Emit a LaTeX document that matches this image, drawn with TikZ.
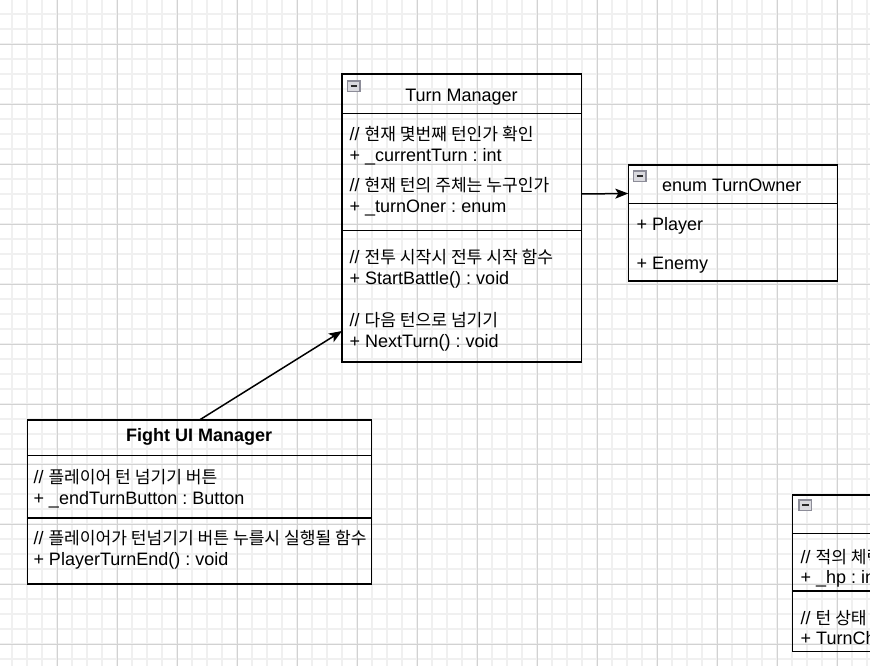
\documentclass[tikz,border=0pt]{standalone}
\usepackage{fontspec}
\setmainfont{Liberation Sans}
\newfontfamily\kr{Noto Sans CJK KR}[Scale=0.95]
\usetikzlibrary{arrows.meta}
\frenchspacing
\definecolor{gridminor}{HTML}{F0F0F0}
\definecolor{gridmajor}{HTML}{D2D2D2}
\definecolor{iconborder}{HTML}{8C8C98}
\definecolor{iconfill}{HTML}{DADADF}
\definecolor{iconbar}{HTML}{2A2A2A}
\tikzset{
  umlbox/.style={draw=black, line width=1.5pt, inner sep=0pt, outer sep=0pt},
  txt/.style={anchor=base west, inner sep=0pt, font=\fontsize{18}{21.6}\selectfont},
  ttl/.style={anchor=base, inner sep=0pt, font=\fontsize{18}{21.6}\selectfont},
  divline/.style={line width=1.5pt},
  arr/.style={line width=1.5pt, -{Stealth[length=13pt,width=10pt,inset=3pt]}},
  minorline/.style={draw=gridminor, line width=1.5pt},
  majorline/.style={draw=gridmajor, line width=0.9pt},
}
\newcommand\colicon[2]{%
  \draw[draw=iconborder, fill=iconfill, line width=1.3pt] (#1,#2) rectangle ++(12.5,10.5);
  \draw[draw=iconbar, line width=1.8pt] (#1+3,#2+5.25) -- ++(6.5,0);
}
\begin{document}
\begin{tikzpicture}[x=1pt,y=-1pt]
\useasboundingbox (0,0) rectangle (870,666);
\fill[white] (0,0) rectangle (870,666);
% grid
\foreach \x in {12,27,...,867} \draw[minorline] (\x,0) -- (\x,666);
\foreach \y in {14,29,...,659} \draw[minorline] (0,\y) -- (870,\y);
\foreach \x in {57,117,...,837} \draw[majorline] (\x,0) -- (\x,666);
\foreach \y in {44,104,...,644} \draw[majorline] (0,\y) -- (870,\y);

% Turn Manager
\node[umlbox, minimum width=239.5pt, minimum height=288pt] (tm) at (461.75,218) {};
\draw[divline] (342,113.3) -- (581.5,113.3);
\draw[divline] (342,230.3) -- (581.5,230.3);
\colicon{347.5}{81}
\node[ttl] (tmt) at (461.5,101.5) {Turn Manager};
\node[txt] (tm1) at (349.5,140.5) {// {\kr 현재 몇번째 턴인가 확인}};
\node[txt] (tm2) at (349.5,161.5) {+ \_currentTurn : int};
\node[txt] (tm3) at (349.5,191.5) {// {\kr 현재 턴의 주체는 누구인가}};
\node[txt] (tm4) at (349.5,212.5) {+ \_turnOner : enum};
\node[txt] (tm5) at (349.5,263.8) {// {\kr 전투 시작시 전투 시작 함수}};
\node[txt] (tm6) at (349.5,284.8) {+ StartBattle() : void};
\node[txt] (tm7) at (349.5,326.5) {// {\kr 다음 턴으로 넘기기}};
\node[txt] (tm8) at (349.5,347.5) {+ NextTurn() : void};

% enum TurnOwner
\node[umlbox, minimum width=209.4pt, minimum height=116pt] (en) at (733,223) {};
\draw[divline] (628.3,203.3) -- (837.7,203.3);
\colicon{633.5}{171}
\node[ttl] (ent) at (731.7,191.5) {enum TurnOwner};
\node[txt] (en1) at (636.5,230.8) {+ Player};
\node[txt] (en2) at (636.5,269.8) {+ Enemy};

% Fight UI Manager
\node[umlbox, minimum width=344.4pt, minimum height=164pt] (fu) at (199.5,502) {};
\draw[divline] (27.3,455.7) -- (371.7,455.7);
\draw[divline] (27.3,518) -- (371.7,518);
\node[ttl, font=\fontsize{18}{21.6}\selectfont\bfseries] (fut) at (199.2,441.5) {Fight UI Manager};
\node[txt] (fu1) at (33.3,483) {// {\kr 플레이어 턴 넘기기 버튼}};
\node[txt] (fu2) at (33.3,504.5) {+ \_endTurnButton : Button};
\node[txt] (fu3) at (33.3,544.8) {// {\kr 플레이어가 턴넘기기 버튼 누를시 실행될 함수}};
\node[txt] (fu4) at (33.3,565.8) {+ PlayerTurnEnd() : void};

% partial box bottom right
\begin{scope}
\clip (0,0) rectangle (870,666);
\node[umlbox, minimum width=207pt, minimum height=156.7pt] (br) at (896,573.35) {};
\draw[divline] (792.5,533.3) -- (1000,533.3);
\draw[divline] (792.5,591) -- (1000,591);
\colicon{799}{500}
\node[txt] (br1) at (800.5,563) {// {\kr 적의 체력}};
\node[txt] (br2) at (800.5,583) {+ \_hp : int};
\node[txt] (br3) at (800.5,624) {// {\kr 턴 상태}};
\node[txt] (br4) at (800.5,644.5) {+ TurnCh};
\end{scope}

% connectors
\draw[arr] ([yshift=24pt]tm.east) -- ([yshift=29.5pt]en.west);
\draw[arr] (fu.north) -- ([yshift=-113pt]tm.west);
\end{tikzpicture}
\end{document}
